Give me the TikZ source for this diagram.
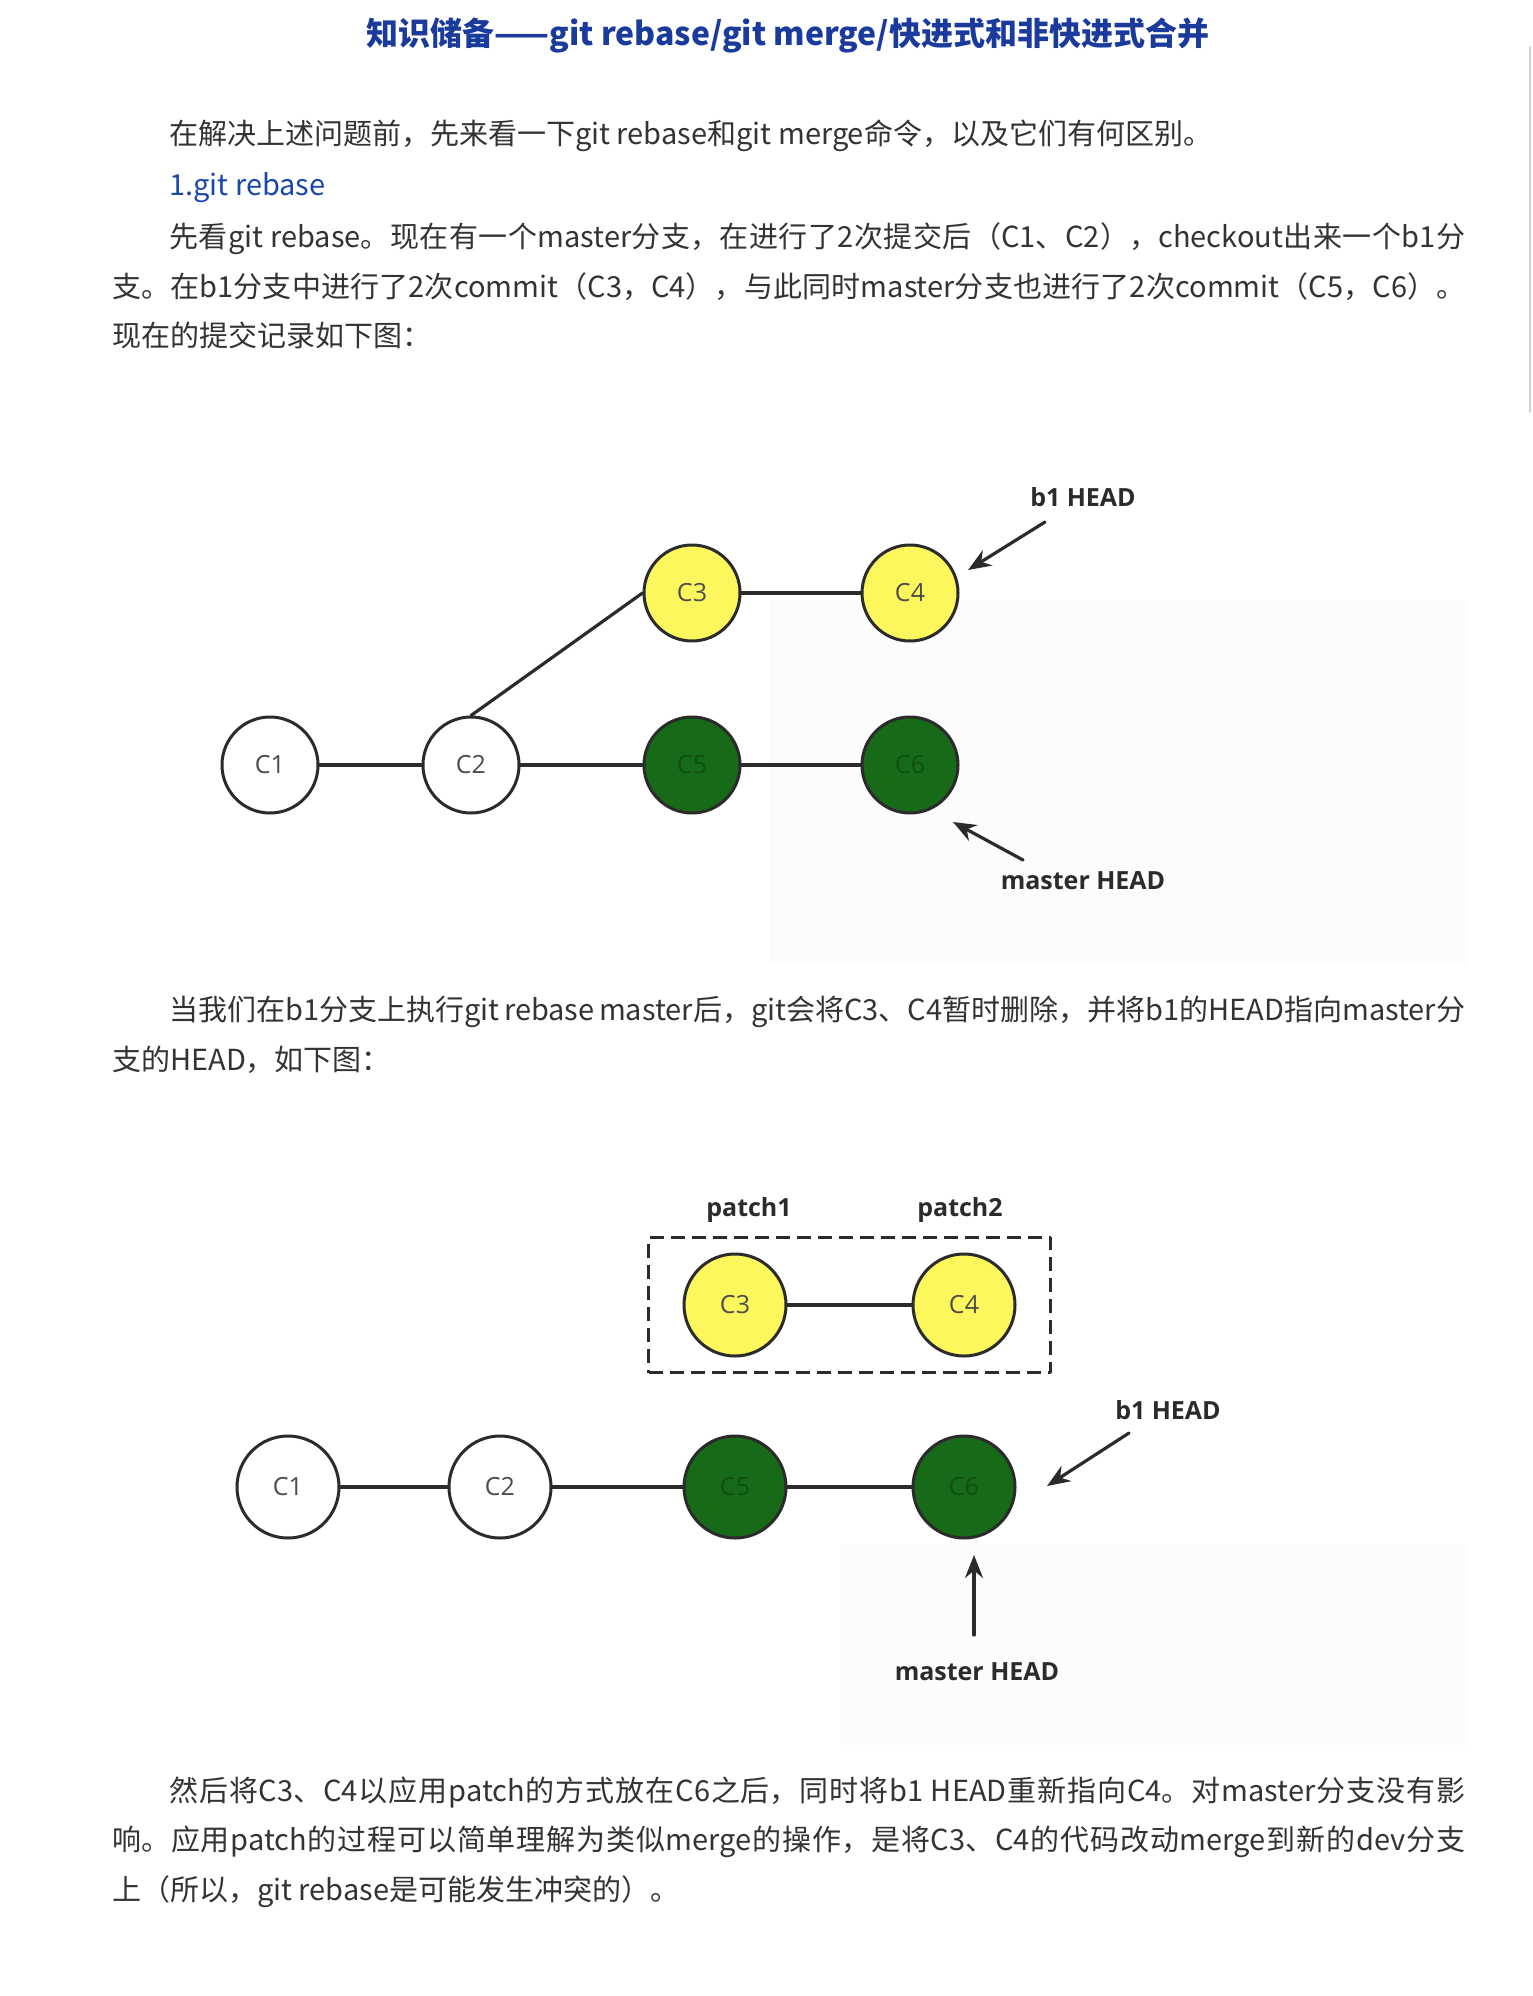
\documentclass[tikz,border=0pt]{standalone}
\usepackage{fontspec}
\setmainfont{Noto Sans CJK SC}
\newfontfamily\labfont{Open Sans}
\usetikzlibrary{arrows.meta,fit}
\XeTeXlinebreaklocale "zh"
\XeTeXlinebreakskip=0pt plus 4pt
\definecolor{txtc}{HTML}{333333}
\definecolor{titlec}{HTML}{1A3A9C}
\definecolor{linkc}{HTML}{1C47AA}
\definecolor{yelc}{HTML}{FCF75C}
\definecolor{grnc}{HTML}{176A17}
\definecolor{edgec}{HTML}{2B2B2B}
\newcommand\bodyfont{\fontsize{29}{50}\selectfont}
\newcommand\jtext[1]{\noindent\parfillskip=0pt\relax #1\par}

\begin{document}
\begin{tikzpicture}[x=1pt, y=-1pt, line cap=round, line join=round,
  commit/.style={circle, draw=edgec, line width=3pt, minimum size=96pt, inner sep=0pt, font=\labfont\fontsize{25}{25}\selectfont, text=black!70},
  old/.style={commit, fill=white},
  br/.style={commit, fill=yelc},
  mst/.style={commit, fill=grnc, text=grnc!75!black},
  big/.style={minimum size=102pt},
  edge/.style={draw=edgec, line width=3.2pt},
  ptr/.style={draw=edgec, line width=3.2pt, -{Stealth[length=23pt,width=18pt]}},
  head/.style={font=\labfont\bfseries\fontsize{25}{25}\selectfont, text=edgec},
  patchbox/.style={draw=edgec, line width=3pt, dash pattern=on 14pt off 7pt, line cap=butt, inner xsep=34pt, inner ysep=15pt},
  row/.style={anchor=base west, inner sep=0pt, font=\bodyfont, text=txtc},
  jrow/.style={row, text width=#1, align=justify}]
\useasboundingbox (0,0) rectangle (1532,1996);
\fill[black!1] (770,600) rectangle (1468,965);
\fill[black!1] (840,1545) rectangle (1468,1745);
\draw[line width=2pt, black!18] (1530,47) -- (1530,412);

\node[anchor=base, font=\bfseries\fontsize{32}{32}\selectfont, text=titlec] (title) at (788,46) {知识储备——git rebase/git merge/快进式和非快进式合并};

\node[row] (r1) at (169,145) {在解决上述问题前，先来看一下git rebase和git merge命令，以及它们有何区别。};
\node[row, text=linkc] (r2) at (169,196) {1.git rebase};
\node[jrow=1296pt] (r3) at (169,247) {\jtext{先看git rebase。现在有一个master分支，在进行了2次提交后（C1、C2），checkout出来一个b1分}};
\node[jrow=1353pt] (r4) at (112,297) {\jtext{支。在b1分支中进行了2次commit（C3，C4），与此同时master分支也进行了2次commit（C5，C6）。}};
\node[row] (r5) at (112,346) {现在的提交记录如下图：};

\node[old] (a1) at (270,765) {C1};
\node[old] (a2) at (471,765) {C2};
\node[br] (a3) at (692,593) {C3};
\node[br] (a4) at (910,593) {C4};
\node[mst] (a5) at (692,765) {C5};
\node[mst] (a6) at (910,765) {C6};
\draw[edge] (a1) -- (a2);
\draw[edge] (a2) -- (a5);
\draw[edge] (a5) -- (a6);
\draw[edge] (a3) -- (a4);
\draw[edge] (a2.north) -- (a3.west);
\node[head] (hb1) at (1083,497) {b1 HEAD};
\node[head] (hm1) at (1083,881) {master HEAD};
\coordinate (sb1) at (1045,522);
\coordinate (tb1) at (968,570);
\coordinate (sm1) at (1023,860);
\coordinate (tm1) at (953,822);
\draw[ptr] (sb1) -- (tb1);
\draw[ptr] (sm1) -- (tm1);

\node[jrow=1296pt] (r6) at (169,1020) {\jtext{当我们在b1分支上执行git rebase master后，git会将C3、C4暂时删除，并将b1的HEAD指向master分}};
\node[row] (r7) at (112,1070) {支的HEAD，如下图：};

\node[br, big] (c3) at (735,1305) {C3};
\node[br, big] (c4) at (964,1305) {C4};
\node[patchbox, fit=(c3)(c4)] (grp) {};
\draw[edge] (c3) -- (c4);
\node[head] (pt1) at (749,1210) {patch1};
\node[head] (pt2) at (960,1210) {patch2};
\node[old, big] (b1) at (288,1487) {C1};
\node[old, big] (b2) at (500,1487) {C2};
\node[mst, big] (b5) at (735,1487) {C5};
\node[mst, big] (b6) at (964,1487) {C6};
\draw[edge] (b1) -- (b2);
\draw[edge] (b2) -- (b5);
\draw[edge] (b5) -- (b6);
\node[head] (hb2) at (1168,1410) {b1 HEAD};
\node[head] (hm2) at (977,1672) {master HEAD};
\coordinate (sb2) at (1129,1433);
\coordinate (tb2) at (1047,1486);
\coordinate (sm2) at (974,1635);
\coordinate (tm2) at (974,1555);
\draw[ptr] (sb2) -- (tb2);
\draw[ptr] (sm2) -- (tm2);

\node[jrow=1296pt] (r8) at (169,1801) {\jtext{然后将C3、C4以应用patch的方式放在C6之后，同时将b1 HEAD重新指向C4。对master分支没有影}};
\node[jrow=1353pt] (r9) at (112,1850) {\jtext{响。应用patch的过程可以简单理解为类似merge的操作，是将C3、C4的代码改动merge到新的dev分支}};
\node[row] (r10) at (112,1900) {上（所以，git rebase是可能发生冲突的）。};
\end{tikzpicture}
\end{document}
